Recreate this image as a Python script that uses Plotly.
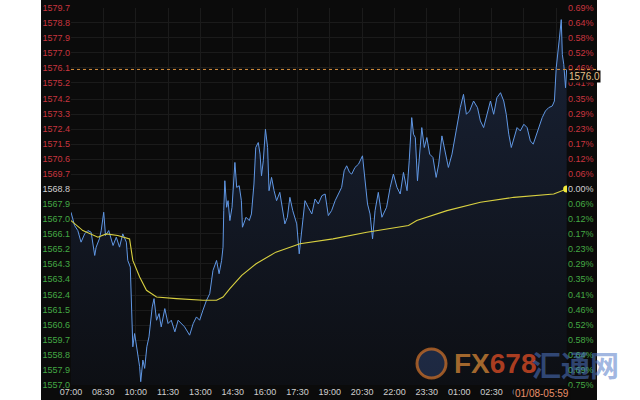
import plotly.graph_objects as go
from datetime import datetime, timedelta

# ---------------- data ----------------
price_times = ["07:00","07:10","07:19","07:28","07:38","07:47","07:56","08:06","08:10","08:19",
"08:24","08:31","08:36","08:45","08:57","09:06","09:15","09:24","09:34","09:38",
"09:45","09:48","09:51","09:52","09:57","10:03","10:11","10:14","10:20","10:25",
"10:31","10:37","10:41","10:46","10:51","10:58","11:05","11:11","11:21","11:30",
"11:39","11:49","11:58","12:07","12:16","12:30","12:40","12:49","12:58","13:07",
"13:17","13:26","13:35","13:45","13:52","13:59","14:03","14:05","14:08","14:13",
"14:17","14:22","14:28","14:36","14:41","14:48","14:54","14:57","15:07","15:16",
"15:22","15:29","15:34","15:41","15:46","15:50","15:55","16:01","16:07","16:11",
"16:18","16:25","16:32","16:41","16:49","16:55","17:02","17:09","17:17","17:28",
"17:35","17:42","17:51","18:00","18:10","18:19","18:28","18:38","18:47","18:56",
"19:05","19:15","19:24","19:33","19:40","19:47","19:55","20:01","20:10","20:20",
"20:31","20:38","20:45","20:52","20:59","21:06","21:15","21:25","21:38","21:48",
"21:57","22:07","22:16","22:25","22:35","22:41","22:48","22:53","22:58","23:04",
"23:10","23:16","23:23","23:30","23:38","23:47","23:56","00:03","00:12","00:19",
"00:30","00:40","00:49","00:56","01:03","01:12","01:20","01:29","01:40","01:51",
"01:59","02:08","02:18","02:27","02:36","02:45","02:55","03:04","03:11","03:18",
"03:25","03:32","03:41","03:50","04:00","04:09","04:18","04:26","04:32","04:41",
"04:51","05:00","05:09","05:19","05:25","05:30","05:34","05:39","05:44","05:47",
"05:51","05:56","05:59"]
price_values = [1567.4,1566.6,1566.3,1565.6,1566.1,1566.3,1566.2,1564.8,1565.3,1565.8,
1566.3,1567.4,1566.0,1566.3,1565.4,1565.9,1565.3,1566.1,1565.6,1564.5,
1564.1,1562.5,1560.1,1559.3,1560.1,1559.2,1558.1,1557.2,1558.5,1558.0,
1559.3,1559.9,1560.9,1561.7,1562.2,1560.9,1561.3,1560.5,1561.6,1560.7,
1560.9,1560.2,1560.9,1560.7,1560.5,1560.0,1560.7,1561.1,1560.9,1561.5,
1562.1,1562.5,1563.9,1564.5,1563.7,1564.5,1565.3,1567.5,1569.3,1567.7,
1568.1,1566.9,1567.7,1570.4,1568.9,1569.0,1568.1,1566.5,1567.1,1566.9,
1567.3,1569.1,1571.3,1571.6,1570.9,1569.6,1570.5,1572.4,1571.3,1568.7,
1569.5,1568.7,1568.1,1568.6,1567.5,1566.7,1567.1,1568.3,1567.5,1566.7,
1564.9,1566.5,1568.1,1567.7,1567.3,1568.2,1567.9,1568.4,1568.5,1567.2,
1567.5,1568.1,1568.5,1568.9,1569.9,1570.2,1569.8,1569.7,1570.1,1570.3,
1570.8,1569.5,1567.9,1567.3,1565.8,1567.5,1568.6,1567.1,1567.7,1568.9,
1569.7,1568.9,1568.5,1569.8,1568.7,1570.5,1573.1,1572.1,1571.9,1569.3,
1570.9,1572.5,1571.3,1571.9,1570.9,1570.7,1569.5,1570.3,1572.0,1571.3,
1570.1,1570.9,1572.1,1572.9,1573.7,1574.5,1573.3,1573.5,1574.1,1573.7,
1572.9,1572.5,1573.3,1574.1,1573.3,1574.3,1574.6,1574.1,1573.3,1572.1,
1571.3,1571.9,1572.5,1572.3,1572.7,1572.5,1571.7,1571.5,1571.9,1572.5,
1573.1,1573.5,1573.7,1573.8,1574.1,1576.1,1577.1,1577.9,1579.0,1576.9,
1576.3,1574.9,1576.0]

avg_times = ["07:00","07:05","07:33","08:15","08:38","09:10","09:43","09:52","10:11","10:30",
"10:58","11:53","13:07","13:45","14:03","14:22","14:55","15:35","16:05","16:30",
"17:37","19:09","20:43","21:48","22:39","23:02","00:26","01:59","03:32","05:23",
"05:37","05:59"]
avg_values = [1566.9,1566.8,1566.3,1565.9,1566.1,1566.0,1565.8,1564.5,1563.5,1562.7,
1562.3,1562.2,1562.1,1562.1,1562.3,1562.8,1563.6,1564.3,1564.7,1565.0,
1565.5,1565.8,1566.2,1566.4,1566.6,1566.9,1567.5,1568.0,1568.3,1568.5,
1568.6,1568.8]

price_ticks = [1579.7,1578.8,1577.9,1577.0,1576.1,1575.2,1574.2,1573.3,1572.4,1571.5,
1570.6,1569.7,1568.8,1567.9,1567.0,1566.1,1565.2,1564.3,1563.4,1562.4,
1561.5,1560.6,1559.7,1558.8,1557.9,1557.0]
pct_labels = ["0.69%","0.64%","0.58%","0.52%","0.46%","0.41%","0.35%","0.29%","0.23%","0.17%",
"0.12%","0.06%","0.00%","0.06%","0.12%","0.17%","0.23%","0.29%","0.35%","0.41%",
"0.46%","0.52%","0.58%","0.64%","0.69%","0.75%"]
prev_close = 1568.8
last_price = 1576.0
last_time_label = "01/08-05:59"

# ---------------- helpers ----------------
DAY0 = datetime(2020, 1, 7)

def to_dt(hhmm):
    h, m = map(int, hhmm.split(":"))
    d = DAY0 + timedelta(hours=h, minutes=m)
    if h < 7:
        d += timedelta(days=1)
    return d

px_x = [to_dt(t) for t in price_times]
av_x = [to_dt(t) for t in avg_times]

RED = "#c8353f"
GREEN = "#44a844"
MID = "#cfcfcf"

def colored(txt, v):
    c = RED if v > prev_close + 0.01 else (GREEN if v < prev_close - 0.01 else MID)
    return f'<span style="color:{c}">{txt}</span>'

left_text = [colored(f"{v:.1f}", v) for v in price_ticks]
right_text = [colored(l, v) for l, v in zip(pct_labels, price_ticks)]

# layout geometry (pixels)
L, R, T, B = 71, 73, 8, 15
PW = 640 - L - R
PH = 400 - T - B

def pxx(x):
    return (x - L) / PW

def pxy(y):
    return (400 - B - y) / PH

fig = go.Figure()

fig.add_trace(go.Scatter(
    x=px_x, y=price_values, mode="lines",
    line=dict(color="#6097e4", width=1),
    fill="tozeroy",
    fillgradient=dict(type="vertical", start=1557.0, stop=1578.0,
                      colorscale=[[0, "rgba(13,15,20,1)"], [1, "rgba(24,33,52,1)"]]),
    hoverinfo="skip", showlegend=False))

fig.add_trace(go.Scatter(
    x=av_x, y=avg_values, mode="lines",
    line=dict(color="#d8d040", width=1.1),
    hoverinfo="skip", showlegend=False))

fig.add_trace(go.Scatter(
    x=[av_x[-1]], y=[avg_values[-1]], mode="markers",
    marker=dict(color="#f2ea3c", size=7),
    hoverinfo="skip", showlegend=False))

# invisible trace for right axis
fig.add_trace(go.Scatter(x=[av_x[-1]], y=[prev_close], yaxis="y2", mode="markers",
                         marker=dict(opacity=0), hoverinfo="skip", showlegend=False))

# black panel
fig.add_shape(type="rect", xref="paper", yref="paper", x0=pxx(41), x1=pxx(597), y0=pxy(400), y1=pxy(0),
              fillcolor="#0b0b0b", line=dict(width=0), layer="below")

# last price dashed line
fig.add_shape(type="line", xref="paper", yref="y", x0=0, x1=pxx(597), y0=last_price, y1=last_price,
              line=dict(color="#d8903e", width=1, dash="3px,3px"))

fig.add_annotation(xref="paper", yref="y", x=pxx(568), y=last_price, xanchor="left", yanchor="top",
                   text=f"{last_price:.1f}", showarrow=False, bgcolor="#0b0b0b",
                   font=dict(color="#e6c08a", size=10, family="Liberation Sans"),
                   borderpad=0, yshift=-1)

# watermark
fig.add_shape(type="circle", xref="paper", yref="paper",
              x0=pxx(417), x1=pxx(446), y0=pxy(378), y1=pxy(349),
              line=dict(color="rgba(200,110,40,0.75)", width=3), fillcolor="rgba(60,90,150,0.35)")
fig.add_annotation(xref="paper", yref="paper", x=pxx(452), y=pxy(363),
                   xanchor="left", yanchor="middle", showarrow=False,
                   text='<b><span style="color:rgba(190,120,50,0.85)">FX</span><span style="color:rgba(200,70,35,0.85)">678</span></b>',
                   font=dict(size=28, family="Liberation Sans Narrow, Liberation Sans"))
fig.add_annotation(xref="paper", yref="paper", x=pxx(530), y=pxy(364),
                   xanchor="left", yanchor="middle", showarrow=False,
                   text="<b>汇通网</b>",
                   font=dict(size=29, family="Noto Sans CJK SC", color="rgba(80,120,200,0.55)"))

# last time label
fig.add_annotation(xref="paper", yref="paper", x=pxx(542), y=pxy(393),
                   xanchor="center", yanchor="middle", showarrow=False,
                   text=last_time_label, bgcolor="#0b0b0b",
                   font=dict(size=10, family="Liberation Sans", color="#e8906a"))

fig.update_layout(
    width=640, height=400,
    margin=dict(l=L, r=R, t=T, b=B, autoexpand=False),
    paper_bgcolor="white", plot_bgcolor="#0b0b0b",
    font=dict(family="Liberation Sans", size=9, color=MID),
    xaxis=dict(range=[DAY0 + timedelta(hours=7), DAY0 + timedelta(hours=30)],
               tick0=DAY0 + timedelta(hours=7), dtick=90*60*1000, tickformat="%H:%M",
               showgrid=True, gridcolor="#1b1b1b", gridwidth=1, zeroline=False,
               showline=False, ticks="", automargin=False,
               tickfont=dict(size=9, color="#cfcfcf")),
    yaxis=dict(range=[1557.0, 1579.7], tickmode="array", tickvals=price_ticks, ticktext=left_text,
               showgrid=True, gridcolor="#1b1b1b", gridwidth=1, zeroline=False,
               ticks="", automargin=False, tickfont=dict(size=9)),
    yaxis2=dict(range=[1557.0, 1579.7], overlaying="y", side="right", tickmode="array",
                tickvals=price_ticks, ticktext=right_text, showgrid=False, zeroline=False,
                ticks="", automargin=False, tickfont=dict(size=9)),
)

fig.write_html("out.html", config={"displayModeBar": False},
               post_script="document.body.style.margin='0px';document.body.style.padding='0px';document.body.style.overflow='hidden';")
